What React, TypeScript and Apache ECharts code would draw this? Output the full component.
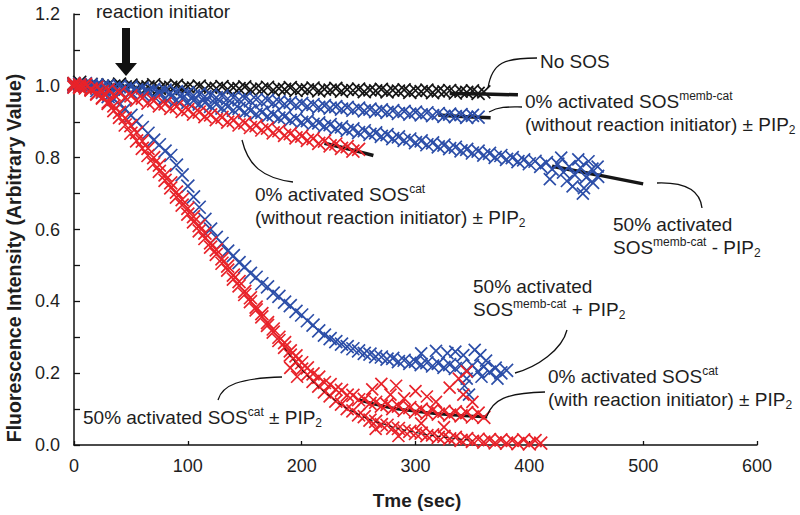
import React, { useEffect, useRef } from 'react';
import * as echarts from 'echarts';

// seconds between recorded samples
const STEP = 5;

// No SOS (black), t = 0..360
const noSOS = [1.006, 1.010, 0.998, 1.004, 1.001, 0.996, 1.003, 0.999, 1.005, 0.997, 1.002, 0.994, 1.000, 0.997, 1.003, 0.993, 0.999, 0.996, 1.001, 0.992, 0.998, 0.994, 0.999, 0.991, 0.996, 0.993, 0.998, 0.990, 0.995, 0.992, 0.997, 0.989, 0.994, 0.991, 0.996, 0.988, 0.993, 0.990, 0.995, 0.987, 0.992, 0.989, 0.994, 0.986, 0.991, 0.988, 0.993, 0.985, 0.990, 0.987, 0.991, 0.984, 0.989, 0.986, 0.990, 0.983, 0.988, 0.985, 0.989, 0.982, 0.987, 0.984, 0.988, 0.981, 0.986, 0.983, 0.987, 0.980, 0.985, 0.982, 0.986, 0.979, 0.983];

// 0% activated SOSmemb-cat without initiator (blue), t = 0..355
const blueNoInit = [1.004, 0.998, 1.006, 0.999, 1.003, 0.996, 1.001, 0.994, 0.999, 0.992, 0.997, 0.989, 0.994, 0.986, 0.990, 0.983, 0.988, 0.980, 0.984, 0.977, 0.981, 0.973, 0.978, 0.970, 0.975, 0.967, 0.972, 0.964, 0.968, 0.961, 0.966, 0.958, 0.962, 0.955, 0.960, 0.952, 0.956, 0.949, 0.954, 0.946, 0.951, 0.943, 0.948, 0.940, 0.945, 0.938, 0.942, 0.935, 0.940, 0.932, 0.938, 0.930, 0.935, 0.928, 0.933, 0.926, 0.931, 0.923, 0.929, 0.921, 0.927, 0.919, 0.925, 0.917, 0.923, 0.915, 0.921, 0.914, 0.920, 0.912, 0.918, 0.913];

// 50% activated SOSmemb-cat - PIP2 (blue), t = 0..460
const blue50Minus = [0.998, 1.005, 0.999, 1.003, 0.994, 0.999, 0.990, 0.994, 0.986, 0.991, 0.982, 0.987, 0.977, 0.982, 0.971, 0.976, 0.966, 0.970, 0.960, 0.964, 0.954, 0.959, 0.949, 0.953, 0.943, 0.948, 0.938, 0.942, 0.932, 0.937, 0.926, 0.931, 0.921, 0.926, 0.915, 0.920, 0.910, 0.914, 0.904, 0.909, 0.898, 0.903, 0.893, 0.897, 0.887, 0.892, 0.881, 0.886, 0.876, 0.880, 0.870, 0.875, 0.865, 0.869, 0.859, 0.864, 0.853, 0.858, 0.848, 0.852, 0.842, 0.847, 0.836, 0.841, 0.830, 0.835, 0.825, 0.829, 0.819, 0.823, 0.813, 0.818, 0.807, 0.812, 0.801, 0.806, 0.795, 0.800, 0.789, 0.794, 0.783, 0.790, 0.776, 0.786, 0.768, 0.782, 0.760, 0.775, 0.752, 0.772, 0.745, 0.768, 0.748];
const blue50MinusLoose = [[418, 0.740], [428, 0.800], [438, 0.720], [443, 0.795], [448, 0.715], [452, 0.790], [456, 0.730], [460, 0.775], [447, 0.700], [433, 0.735]];

// 0% activated SOScat without initiator (red), t = 0..250
const redNoInit = [1.006, 0.998, 1.003, 0.991, 0.996, 0.984, 0.989, 0.976, 0.981, 0.968, 0.972, 0.960, 0.966, 0.952, 0.958, 0.944, 0.950, 0.937, 0.942, 0.929, 0.934, 0.921, 0.927, 0.914, 0.919, 0.906, 0.912, 0.899, 0.904, 0.891, 0.897, 0.884, 0.889, 0.877, 0.882, 0.869, 0.875, 0.862, 0.867, 0.855, 0.860, 0.848, 0.853, 0.840, 0.846, 0.833, 0.838, 0.826, 0.831, 0.818, 0.823];

// 50% activated SOSmemb-cat + PIP2 (blue), t = 0..380
const blue50Plus = [1.003, 0.997, 1.002, 0.991, 0.987, 0.982, 0.970, 0.962, 0.948, 0.936, 0.918, 0.902, 0.884, 0.868, 0.849, 0.836, 0.818, 0.806, 0.779, 0.752, 0.721, 0.691, 0.662, 0.628, 0.601, 0.578, 0.561, 0.540, 0.527, 0.508, 0.496, 0.478, 0.467, 0.449, 0.440, 0.423, 0.414, 0.398, 0.388, 0.372, 0.362, 0.346, 0.334, 0.318, 0.306, 0.296, 0.288, 0.281, 0.274, 0.268, 0.262, 0.255, 0.253, 0.246, 0.245, 0.239, 0.241, 0.232, 0.236, 0.227, 0.233, 0.224, 0.229, 0.220, 0.227, 0.216, 0.224, 0.213, 0.222, 0.208, 0.221, 0.205, 0.218, 0.203, 0.214, 0.201, 0.208];
const blue50PlusLoose = [[305, 0.255], [318, 0.262], [328, 0.256], [335, 0.260], [342, 0.250], [352, 0.265], [357, 0.250], [362, 0.235], [345, 0.185], [358, 0.190], [372, 0.185], [343, 0.165], [347, 0.140]];

// 50% activated SOScat ± PIP2 (red), t = 0..410
const red50 = [1.002, 0.995, 1.004, 0.988, 0.979, 0.966, 0.951, 0.931, 0.912, 0.891, 0.868, 0.847, 0.826, 0.806, 0.783, 0.762, 0.737, 0.716, 0.690, 0.668, 0.643, 0.621, 0.596, 0.575, 0.551, 0.531, 0.506, 0.487, 0.462, 0.443, 0.419, 0.399, 0.376, 0.357, 0.333, 0.314, 0.291, 0.272, 0.250, 0.232, 0.211, 0.196, 0.177, 0.164, 0.148, 0.137, 0.122, 0.114, 0.101, 0.095, 0.084, 0.079, 0.069, 0.066, 0.057, 0.055, 0.047, 0.046, 0.039, 0.038, 0.032, 0.033, 0.026, 0.028, 0.021, 0.024, 0.017, 0.021, 0.013, 0.018, 0.010, 0.016, 0.008, 0.015, 0.006, 0.014, 0.005, 0.013, 0.004, 0.014, 0.003, 0.012, 0.005];

// 0% activated SOScat with initiator ± PIP2 (red), t = 0..360
const redInit = [0.996, 1.003, 0.994, 0.990, 0.977, 0.968, 0.955, 0.944, 0.926, 0.910, 0.889, 0.870, 0.846, 0.826, 0.800, 0.779, 0.752, 0.730, 0.704, 0.683, 0.659, 0.636, 0.611, 0.590, 0.563, 0.543, 0.518, 0.498, 0.473, 0.455, 0.428, 0.410, 0.384, 0.366, 0.341, 0.323, 0.300, 0.285, 0.262, 0.248, 0.229, 0.215, 0.198, 0.189, 0.174, 0.168, 0.155, 0.152, 0.139, 0.138, 0.126, 0.127, 0.116, 0.119, 0.108, 0.113, 0.101, 0.108, 0.096, 0.104, 0.092, 0.100, 0.088, 0.097, 0.086, 0.094, 0.083, 0.092, 0.081, 0.090, 0.078, 0.089, 0.077];
const redLoose = [[262, 0.155], [270, 0.170], [278, 0.140], [283, 0.165], [290, 0.130], [300, 0.150], [310, 0.135], [318, 0.120], [330, 0.160], [338, 0.185], [342, 0.140], [345, 0.205], [350, 0.120], [265, 0.045], [285, 0.025], [305, 0.060], [325, 0.050], [190, 0.215], [196, 0.190]];

// fitted curves (black) — the parts that show beyond the data
const fitNoSOS = [[330, 0.979], [360, 0.977], [390, 0.975]];
const fitBlueNoInit = [[320, 0.919], [345, 0.914], [366, 0.911]];
const fitBlue50Minus = [[420, 0.776], [460, 0.752], [500, 0.727]];
const fitRedNoInit = [[220, 0.84], [245, 0.821], [263, 0.806]];
const fitRed50 = [[185, 0.27], [200, 0.21], [225, 0.135], [250, 0.085], [275, 0.055], [300, 0.035], [325, 0.022], [350, 0.013]];
const fitRedInit = [[250, 0.126], [275, 0.106], [300, 0.094], [330, 0.084], [363, 0.078]];

const xTicks = { min: 0, max: 600, interval: 100 };
const yTicks = { min: 0, max: 1.2, interval: 0.2 };

const BLACK = '#161616';
const BLUE = '#2c4ea8';
const RED = '#e8232a';
const TXT = '#1e1e1e';
const FONT = '"Liberation Sans", Arial, Helvetica, sans-serif';
const XMARK = 'path://M0 0L10 10M10 0L0 10';

const toPts = (vals: number[]) => vals.map((v, i) => [i * STEP, v]);

function scatter(name: string, data: number[][], color: string, size = 13, z = 3) {
  return {
    name,
    type: 'scatter',
    data,
    symbol: XMARK,
    symbolSize: size,
    z,
    itemStyle: { color, borderColor: color, borderWidth: 1.7, opacity: 1 },
    emphasis: { disabled: true },
  };
}

function fit(name: string, data: number[][], width: number, z: number, dashed = false) {
  return {
    name,
    type: 'line',
    data,
    smooth: true,
    showSymbol: false,
    symbol: 'none',
    z,
    lineStyle: { color: BLACK, width, type: dashed ? [4, 3] : 'solid' },
    emphasis: { disabled: true },
  };
}

const rich = {
  sup: { fontSize: 12, fontFamily: FONT, fill: TXT, verticalAlign: 'top', lineHeight: 17 },
  sub: { fontSize: 12, fontFamily: FONT, fill: TXT, verticalAlign: 'bottom', lineHeight: 14 },
};

function label(x: number, y: number, text: string) {
  return {
    type: 'text',
    x,
    y,
    z: 100,
    style: {
      text,
      fill: TXT,
      fontSize: 19,
      fontFamily: FONT,
      lineHeight: 23,
      align: 'left',
      verticalAlign: 'top',
      rich,
    },
  };
}

function leader(x1: number, y1: number, cpx1: number, cpy1: number, cpx2: number, cpy2: number, x2: number, y2: number) {
  return {
    type: 'bezierCurve',
    z: 100,
    shape: { x1, y1, cpx1, cpy1, cpx2, cpy2, x2, y2 },
    style: { stroke: '#111', lineWidth: 1.3, fill: 'none' },
  };
}

export default function App() {
  const ref = useRef<HTMLDivElement>(null);
  useEffect(() => {
    if (!ref.current) return;
    const chart = echarts.init(ref.current, null, { renderer: 'svg' });
    chart.setOption({
      animation: false,
      backgroundColor: '#ffffff',
      grid: { left: 74, right: 43, top: 14, bottom: 70, containLabel: false },
      xAxis: {
        type: 'value',
        ...xTicks,
        axisLine: { show: true, onZero: false, lineStyle: { color: '#111', width: 1.5 } },
        axisTick: { show: true, inside: true, length: 4, lineStyle: { color: '#111', width: 1.3 } },
        axisLabel: { fontSize: 18, color: TXT, fontFamily: FONT, margin: 12 },
        splitLine: { show: false },
      },
      yAxis: {
        type: 'value',
        ...yTicks,
        axisLine: { show: true, lineStyle: { color: '#111', width: 1.5 } },
        axisTick: { show: true, inside: true, length: 6, lineStyle: { color: '#111', width: 1.3 } },
        minorTick: { show: true, splitNumber: 2, length: 6, lineStyle: { color: '#111', width: 1.3 } },
        axisLabel: {
          fontSize: 18,
          color: TXT,
          fontFamily: FONT,
          margin: 14,
          formatter: (v: number) => v.toFixed(1),
        },
        splitLine: { show: false },
      },
      series: [
        fit('fit no SOS', fitNoSOS, 3.5, 1),
        fit('fit 0% memb-cat', fitBlueNoInit, 3.5, 1),
        fit('fit 50% memb-cat - PIP2', fitBlue50Minus, 3.5, 1),
        fit('fit 0% cat no init', fitRedNoInit, 3.5, 1),
        fit('fit 0% cat init', fitRedInit, 3, 1),
        scatter('No SOS', toPts(noSOS), BLACK),
        scatter('0% activated SOSmemb-cat', toPts(blueNoInit), BLUE),
        scatter('50% activated SOSmemb-cat - PIP2', toPts(blue50Minus), BLUE),
        scatter('50% activated SOSmemb-cat - PIP2 (loose)', blue50MinusLoose, BLUE, 12),
        scatter('50% activated SOSmemb-cat + PIP2', toPts(blue50Plus), BLUE),
        scatter('50% activated SOSmemb-cat + PIP2 (loose)', blue50PlusLoose, BLUE, 12),
        scatter('0% activated SOScat without initiator', toPts(redNoInit), RED),
        scatter('50% activated SOScat', toPts(red50), RED),
        scatter('0% activated SOScat with initiator', toPts(redInit), RED),
        scatter('red loose', redLoose, RED, 12),
        fit('fit 50% cat', fitRed50, 1, 5, true),
      ],
      graphic: [
        // arrow: reaction initiator
        { type: 'rect', z: 100, shape: { x: 122, y: 28, width: 8, height: 36 }, style: { fill: '#111' } },
        { type: 'polygon', z: 100, shape: { points: [[115, 63], [137, 63], [126, 76]] }, style: { fill: '#111' } },
        label(96, 0, 'reaction initiator'),
        label(540, 50, 'No SOS'),
        leader(488, 88, 492, 62, 505, 58, 537, 58),
        label(525, 90, '0% activated SOS{sup|memb-cat}\n(without reaction initiator) ± PIP{sub|2}'),
        leader(489, 112, 500, 106, 510, 107, 522, 107),
        label(255, 183, '0% activated SOS{sup|cat}\n(without reaction initiator) ± PIP{sub|2}'),
        leader(242, 140, 248, 165, 262, 178, 293, 182),
        label(613, 213, '50% activated\nSOS{sup|memb-cat} - PIP{sub|2}'),
        leader(657, 183, 685, 182, 700, 190, 702, 208),
        label(473, 275, '50% activated\nSOS{sup|memb-cat} + PIP{sub|2}'),
        leader(515, 373, 537, 367, 562, 350, 567, 330),
        label(548, 365, '0% activated SOS{sup|cat}\n(with reaction initiator) ± PIP{sub|2}'),
        leader(487, 416, 493, 400, 505, 393, 545, 392),
        label(83, 406, '50% activated SOS{sup|cat} ± PIP{sub|2}'),
        leader(218, 400, 222, 385, 240, 378, 282, 377),
        // axis titles
        {
          type: 'text',
          x: 417,
          y: 500,
          z: 100,
          style: { text: 'Tme (sec)', fill: TXT, fontSize: 19, fontWeight: 'bold', fontFamily: FONT, align: 'center', verticalAlign: 'middle' },
        },
        {
          type: 'text',
          x: 14,
          y: 258,
          rotation: Math.PI / 2,
          z: 100,
          style: { text: 'Fluorescence Intensity (Arbitrary Value)', fill: TXT, fontSize: 19.5, fontWeight: 'bold', fontFamily: FONT, align: 'center', verticalAlign: 'middle' },
        },
      ],
    });
    return () => chart.dispose();
  }, []);
  return <div ref={ref} style={{ position: 'absolute', left: 0, top: 0, width: 800, height: 515 }} />;
}
